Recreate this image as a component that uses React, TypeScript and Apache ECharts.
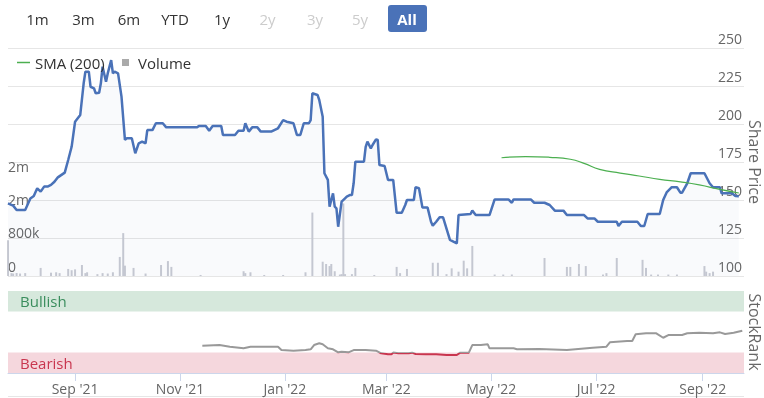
import React, { useEffect, useRef } from 'react';
import * as echarts from 'echarts';

const FONT = '"Open Sans", "Noto Sans", sans-serif';

// Range selector buttons
const rangeButtons = ['1m', '3m', '6m', 'YTD', '1y', '2y', '3y', '5y', 'All'];
const disabledButtons = ['2y', '3y', '5y'];
const activeButton = 'All';

// Share price (close)
const priceDates = [
  '2021-07-24','2021-07-27','2021-07-29','2021-08-03','2021-08-06','2021-08-08','2021-08-10','2021-08-12','2021-08-14','2021-08-16',
  '2021-08-18','2021-08-20','2021-08-22','2021-08-26','2021-08-28','2021-08-30','2021-09-01','2021-09-04','2021-09-06','2021-09-07',
  '2021-09-09','2021-09-10','2021-09-12','2021-09-13','2021-09-15','2021-09-16','2021-09-17','2021-09-19','2021-09-20','2021-09-22',
  '2021-09-23','2021-09-24','2021-09-26','2021-09-28','2021-09-30','2021-10-01','2021-10-04','2021-10-06','2021-10-08','2021-10-10',
  '2021-10-12','2021-10-13','2021-10-16','2021-10-18','2021-10-22','2021-10-24','2021-11-11','2021-11-12','2021-11-16','2021-11-18',
  '2021-11-20','2021-11-25','2021-11-26','2021-12-03','2021-12-05','2021-12-08','2021-12-09','2021-12-11','2021-12-13','2021-12-16',
  '2021-12-18','2021-12-24','2021-12-28','2021-12-31','2022-01-02','2022-01-06','2022-01-08','2022-01-10','2022-01-12','2022-01-15',
  '2022-01-16','2022-01-17','2022-01-20','2022-01-21','2022-01-23','2022-01-24','2022-01-26','2022-01-27','2022-01-29','2022-01-30',
  '2022-01-31','2022-02-01','2022-02-03','2022-02-05','2022-02-06','2022-02-08','2022-02-09','2022-02-10','2022-02-11','2022-02-16',
  '2022-02-17','2022-02-18','2022-02-20','2022-02-21','2022-02-23','2022-02-24','2022-02-25','2022-02-28','2022-03-02','2022-03-05',
  '2022-03-07','2022-03-10','2022-03-12','2022-03-13','2022-03-17','2022-03-18','2022-03-20','2022-03-22','2022-03-25','2022-03-27',
  '2022-03-28','2022-03-30','2022-04-01','2022-04-03','2022-04-07','2022-04-11','2022-04-12','2022-04-19','2022-04-20','2022-04-22',
  '2022-04-30','2022-05-03','2022-05-11','2022-05-13','2022-05-14','2022-05-24','2022-05-26','2022-06-01','2022-06-04','2022-06-07',
  '2022-06-12','2022-06-14','2022-06-24','2022-06-26','2022-06-30','2022-07-02','2022-07-13','2022-07-14','2022-07-16','2022-07-25',
  '2022-07-27','2022-07-29','2022-07-31','2022-08-07','2022-08-09','2022-08-11','2022-08-14','2022-08-17','2022-08-19','2022-08-20',
  '2022-08-23','2022-08-25','2022-09-02','2022-09-05','2022-09-07','2022-09-11','2022-09-12','2022-09-18','2022-09-20','2022-09-22',
];
const priceValues = [
  147.8,146.3,143.4,143.4,151,152.6,157.7,155.5,158.8,158.8,
  159.9,162,164.9,168,176.3,185,201.5,205.9,226.8,234.4,
  234.4,224.5,223.5,220.2,220.6,226.8,237.7,227.8,233.3,242,
  233.3,234.4,233.3,218,189.5,190.6,190.6,180.7,187.3,188.4,
  187.3,196,196,200.5,200.5,197.8,197.8,198.7,198.7,195.6,
  198.7,198.7,192.8,192.8,195.6,195.6,200.5,195,197.8,197.8,
  195,195,197.2,202.6,201.5,200.5,192.8,192.8,200.5,200.5,
  202.6,220.2,219.1,215.8,204.8,167.6,163.2,145.6,154.4,145.6,
  144.5,132.4,148.9,151.1,152.2,153.3,153.3,161,175.2,175.2,
  185,188.4,184,186.2,189.9,189.5,173,172.4,163.2,163.2,
  141.6,141.6,146.7,150,150,158.4,157.7,145,145,135.7,
  133.1,135.7,138.6,138.6,123.7,121.5,140.1,140.8,143,140.1,
  140.1,150.4,150.4,148.2,150.4,150.4,148.2,148.2,146.7,143,
  143,140.1,140.1,137.9,137.9,135.7,135.7,132.9,135.7,135.7,
  132.9,132.9,140.8,140.8,150,155,158.4,158.4,154.8,154.8,
  161,167.6,167.6,161,158.4,158.4,154.4,154.4,152.6,152.5,
];

// SMA (200)
const smaDates = ['2022-05-07','2022-05-21','2022-06-04','2022-06-16','2022-06-24','2022-07-03','2022-07-15','2022-07-26','2022-08-07','2022-08-19','2022-08-30','2022-09-11','2022-09-22'];
const smaValues = [177.8,178.6,178.1,176.8,174.1,170.2,167.7,165.8,163.6,161.9,159.9,157,154.6];

// Volume (thousands)
const volumeDates = [
  '2021-07-24','2021-07-26','2021-07-27','2021-07-29','2021-07-31','2021-08-03','2021-08-12','2021-08-18','2021-08-21','2021-08-23',
  '2021-08-28','2021-08-30','2021-09-01','2021-09-05','2021-09-07','2021-09-08','2021-09-14','2021-09-17','2021-09-20','2021-09-23',
  '2021-09-27','2021-09-29','2021-09-30','2021-10-05','2021-10-12','2021-10-21','2021-10-25','2021-10-27','2021-11-13','2021-12-08',
  '2021-12-09','2021-12-12','2021-12-20','2021-12-31','2022-01-13','2022-01-17','2022-01-23','2022-01-25','2022-01-27','2022-01-28',
  '2022-01-30','2022-02-02','2022-02-03','2022-02-04','2022-02-05','2022-02-09','2022-02-11','2022-02-22','2022-03-07','2022-03-09',
  '2022-03-13','2022-03-28','2022-03-31','2022-04-05','2022-04-08','2022-04-12','2022-04-15','2022-04-17','2022-04-20','2022-05-03',
  '2022-05-08','2022-05-13','2022-06-01','2022-06-14','2022-06-16','2022-06-21','2022-06-25','2022-07-05','2022-07-07','2022-07-13',
  '2022-07-28','2022-07-30','2022-08-02','2022-08-06','2022-08-12','2022-08-17','2022-09-02','2022-09-03','2022-09-05','2022-09-07',
];
const volumeK = [
  860,70,60,70,60,70,195,80,90,70,
  170,140,160,265,70,90,45,70,60,90,
  460,1035,250,195,60,265,360,220,25,115,
  70,90,25,25,90,1530,345,290,240,290,
  115,35,45,1750,45,45,195,25,220,70,
  170,320,320,45,185,105,370,185,725,35,
  35,35,435,220,220,290,240,35,70,435,
  390,195,35,35,35,35,240,105,70,105,
];

// StockRank
const rankDates = [
  '2021-11-14','2021-11-24','2021-11-30','2021-12-08','2021-12-12','2021-12-28','2021-12-30',
  '2022-01-06','2022-01-13','2022-01-16','2022-01-18','2022-01-21','2022-01-23','2022-01-26','2022-01-29',
  '2022-02-01','2022-02-03','2022-02-07','2022-02-10','2022-02-17','2022-02-23','2022-02-26',
  '2022-03-02','2022-03-04','2022-03-05','2022-03-08','2022-03-14','2022-03-16','2022-03-18','2022-03-24','2022-03-30',
  '2022-04-05','2022-04-11','2022-04-13','2022-04-18','2022-04-20','2022-04-25','2022-04-29','2022-04-30',
  '2022-05-14','2022-05-16','2022-05-29','2022-06-14','2022-06-29',
  '2022-07-07','2022-07-09','2022-07-19','2022-07-22','2022-07-24','2022-07-30',
  '2022-08-05','2022-08-09','2022-08-12','2022-08-20','2022-08-23','2022-08-30',
  '2022-09-07','2022-09-11','2022-09-14','2022-09-19','2022-09-24',
];
const rankValues = [
  33.3,34.1,32.1,30.1,32.1,32.1,28,
  27.2,28,28.9,34.1,36.2,35,30.1,28.9,
  25.2,26,25.2,28,28,27.2,24,
  22.8,22.8,24.9,24,24,24.8,23.2,22.8,22.8,
  22,22,24.8,24.8,34.1,34.1,35,30.1,
  30.1,28.9,29.3,28,30.9,
  32.1,37.4,39,39,47.2,48.4,
  48.4,43,46.3,46.3,48.4,49.1,
  48.4,49.6,47.6,49.1,51.6,
];

// daily category axis
const axisStart = Date.UTC(2021, 6, 24);
const axisDays = 429;
const axisDates: string[] = [];
for (let i = 0; i < axisDays; i++) {
  axisDates.push(new Date(axisStart + i * 86400000).toISOString().slice(0, 10));
}
const MONTHS = ['Jan','Feb','Mar','Apr','May','Jun','Jul','Aug','Sep','Oct','Nov','Dec'];
const isTickDate = (_i: number, v: string) => v.slice(8) === '01' && Number(v.slice(5, 7)) % 2 === 1;
const fmtDate = (v: string) => `${MONTHS[Number(v.slice(5, 7)) - 1]} '${v.slice(2, 4)}`;
const fmtVolume = (v: number) =>
  v === 0 ? '0' : v === 800000 ? '800k' : v === 1600000 || v === 2400000 ? '2m' : '';

const buttonCenters = [37.5, 83.5, 129, 175, 222, 267.5, 315, 360, 407];

export default function App() {
  const ref = useRef<HTMLDivElement>(null);
  useEffect(() => {
    document.documentElement.style.overflow = 'hidden';
    document.body.style.overflow = 'hidden';
    const chart = echarts.init(ref.current!, undefined, { renderer: 'svg', width: 764, height: 398 });
    const graphic: any[] = [];
    rangeButtons.forEach((b, i) => {
      if (b === activeButton) {
        graphic.push({ type: 'rect', shape: { x: 388, y: 5, width: 39, height: 27, r: 3 }, style: { fill: '#4a72b8' } });
      }
      graphic.push({
        type: 'text', x: buttonCenters[i], y: 19,
        style: {
          text: b, align: 'center', verticalAlign: 'middle', fontSize: 15, fontFamily: FONT,
          fontWeight: b === activeButton ? 'bold' : 'normal',
          fill: b === activeButton ? '#ffffff' : disabledButtons.includes(b) ? '#cccccc' : '#333333',
        },
      });
    });
    graphic.push({ type: 'line', shape: { x1: 8, y1: 396.5, x2: 744, y2: 396.5 }, style: { stroke: '#e6e6e6', lineWidth: 1 } });

    const nameStyle = { fontSize: 16, color: '#666', fontFamily: FONT, lineHeight: 16, padding: 0 };

    const option: any = {
      animation: false,
      textStyle: { fontFamily: FONT },
      graphic,
      grid: [
        { left: 8, right: 20, top: 48, height: 228, outerBoundsMode: 'none', containLabel: false },
        { left: 8, right: 20, top: 291, height: 82, outerBoundsMode: 'none', containLabel: false },
      ],
      legend: [
        {
          left: 12, top: 50, data: [{ name: 'SMA (200)', icon: 'rect' }], itemWidth: 13, itemHeight: 1.5, selectedMode: false,
          textStyle: { fontSize: 15, color: '#333', fontFamily: FONT },
        },
        {
          left: 117, top: 50, data: [{ name: 'Volume', icon: 'rect', itemStyle: { color: '#aaaaaa' } }],
          itemWidth: 7, itemHeight: 7, selectedMode: false,
          textStyle: { fontSize: 15, color: '#333', fontFamily: FONT, padding: [0, 0, 0, 4] },
        },
      ],
      xAxis: [
        {
          type: 'category', gridIndex: 0, data: axisDates, boundaryGap: false,
          axisLine: { show: false }, axisTick: { show: false }, axisLabel: { show: false }, splitLine: { show: false },
        },
        {
          type: 'category', gridIndex: 1, data: axisDates, boundaryGap: false,
          axisLine: { lineStyle: { color: '#ccd6eb' } },
          axisTick: { interval: isTickDate, length: 8, lineStyle: { color: '#ccd6eb' } },
          axisLabel: { interval: isTickDate, formatter: fmtDate, color: '#666', fontSize: 14, margin: 8, fontFamily: FONT },
          splitLine: { show: false },
        },
      ],
      yAxis: [
        {
          type: 'value', gridIndex: 0, position: 'right', min: 100, max: 250, interval: 25,
          name: 'Share Price', nameLocation: 'middle', nameRotate: -90, nameGap: 3, nameMoveOverlap: false,
          nameTextStyle: nameStyle,
          axisLine: { show: false }, axisTick: { show: false },
          axisLabel: { inside: true, margin: 2, verticalAlign: 'bottom', padding: [0, 0, 3, 0], color: '#666', fontSize: 14, fontFamily: FONT },
          splitLine: { lineStyle: { color: '#e6e6e6' } },
        },
        {
          type: 'value', gridIndex: 0, position: 'left', min: 0, max: 5500000, interval: 800000,
          axisLine: { show: false }, axisTick: { show: false }, splitLine: { show: false },
          axisLabel: { inside: true, margin: 0, verticalAlign: 'bottom', padding: [0, 0, 3, 0], color: '#666', fontSize: 14, fontFamily: FONT, formatter: fmtVolume },
        },
        {
          type: 'value', gridIndex: 1, position: 'right', min: 0, max: 100, interval: 100,
          name: 'StockRank', nameLocation: 'middle', nameRotate: -90, nameGap: 3, nameMoveOverlap: false,
          nameTextStyle: nameStyle,
          axisLine: { show: false }, axisTick: { show: false },
          axisLabel: { inside: true, margin: 2, verticalAlign: 'bottom', padding: [0, 0, 3, 0], color: '#666', fontSize: 14, fontFamily: FONT, formatter: (v: number) => (v === 0 ? '0' : '') },
          splitLine: { lineStyle: { color: '#e6e6e6' } },
        },
      ],
      visualMap: {
        show: false, type: 'piecewise', seriesIndex: 3, dimension: 1,
        pieces: [{ gte: 0, lt: 25, color: '#c9364f' }, { gte: 25, lte: 100, color: '#999999' }],
      },
      series: [
        {
          name: 'Volume', type: 'bar', xAxisIndex: 0, yAxisIndex: 1, barWidth: 2,
          itemStyle: { color: '#c9cbd3' },
          data: volumeDates.map((d, i) => [d, volumeK[i] * 1000]),
        },
        {
          name: 'Price', type: 'line', xAxisIndex: 0, yAxisIndex: 0, symbol: 'none',
          lineStyle: { color: '#4a72b8', width: 2.5 }, itemStyle: { color: '#4a72b8' },
          areaStyle: { color: 'rgba(74,114,184,0.05)', origin: 'start' },
          data: priceDates.map((d, i) => [d, priceValues[i]]),
          z: 3,
        },
        {
          name: 'SMA (200)', type: 'line', xAxisIndex: 0, yAxisIndex: 0, symbol: 'none', smooth: true,
          lineStyle: { color: '#4caf50', width: 1.2 }, itemStyle: { color: '#4caf50' },
          data: smaDates.map((d, i) => [d, smaValues[i]]),
          z: 4,
        },
        {
          name: 'StockRank', type: 'line', xAxisIndex: 1, yAxisIndex: 2, symbol: 'none',
          lineStyle: { width: 2 },
          data: rankDates.map((d, i) => [d, rankValues[i]]),
          markArea: {
            silent: true,
            data: [
              [
                { name: 'Bullish', yAxis: 75, itemStyle: { color: '#d6e8dc' }, label: { show: true, position: 'insideLeft', distance: 12, color: '#3a8d5d', fontSize: 15, fontFamily: FONT } },
                { yAxis: 100 },
              ],
              [
                { name: 'Bearish', yAxis: 0, itemStyle: { color: '#f5d7dd' }, label: { show: true, position: 'insideLeft', distance: 12, color: '#c9364f', fontSize: 15, fontFamily: FONT } },
                { yAxis: 25 },
              ],
            ],
          },
        },
      ],
    };
    chart.setOption(option);
    return () => chart.dispose();
  }, []);
  return <div ref={ref} style={{ position: 'fixed', left: 0, top: 0, width: 764, height: 398 }} />;
}
